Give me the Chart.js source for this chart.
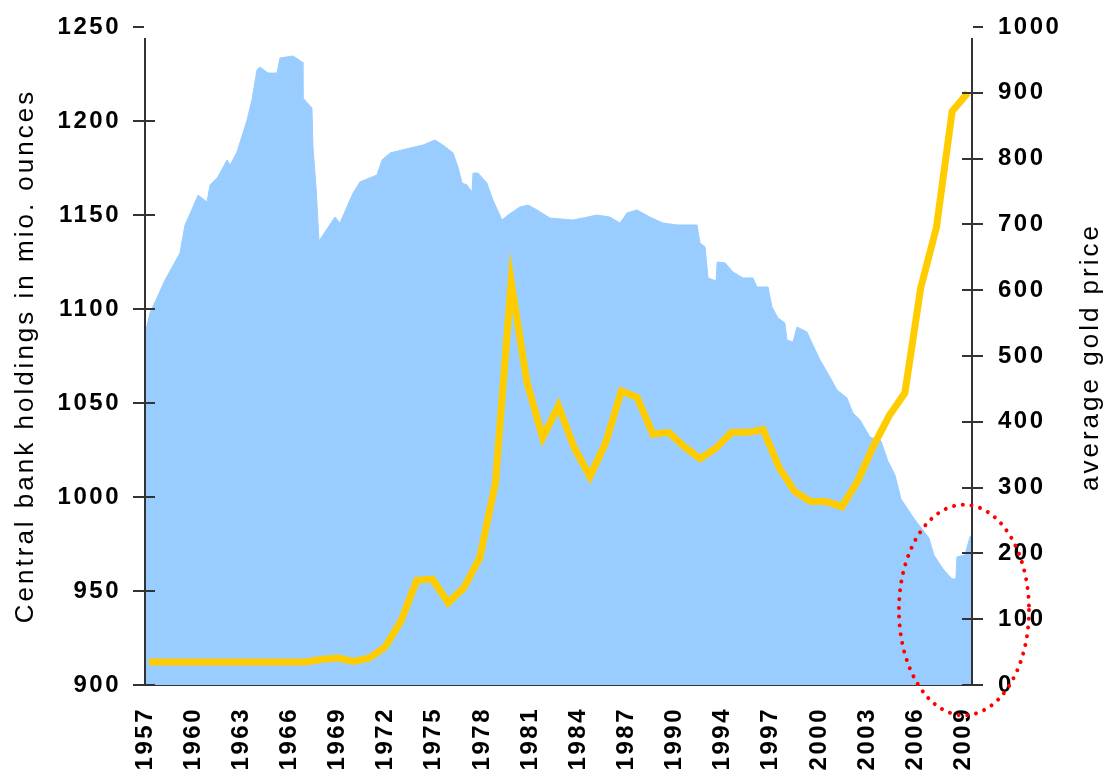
<!DOCTYPE html>
<html>
<head>
<meta charset="utf-8">
<script src="https://cdn.jsdelivr.net/npm/chart.js@4.4.1/dist/chart.umd.min.js"></script>
<style>
html,body{margin:0;padding:0;background:#fff;}
canvas{display:block;}
</style>
</head>
<body>
<canvas id="c" width="1112" height="774"></canvas>
<script>
// ---- data ----
const tickLabels = ['1957','1960','1963','1966','1969','1972','1975','1978','1981','1984','1987','1990','1994','1997','2000','2003','2006','2009'];

const holdingsDates = [1956.81,1957.07,1958.02,1958.97,1959.29,1959.80,1960.12,1960.69,1960.88,1961.38,1961.96,1962.15,1962.59,1963.23,1963.54,1963.86,1964.05,1964.56,1965.13,1965.32,1966.15,1966.72,1966.78,1967.35,1967.42,1967.61,1967.80,1968.81,1969.13,1969.57,1969.96,1970.40,1971.48,1971.80,1972.31,1973.57,1974.40,1975.16,1975.67,1976.31,1976.62,1976.88,1977.19,1977.51,1977.58,1977.89,1978.46,1978.84,1979.42,1979.80,1980.56,1981.07,1981.64,1982.46,1983.92,1984.56,1985.45,1986.27,1986.91,1987.35,1987.99,1988.81,1989.64,1990.53,1991.80,1991.99,1992.31,1992.50,1993.01,1993.08,1993.59,1994.08,1994.72,1995.35,1995.61,1996.31,1996.56,1996.94,1997.38,1997.51,1997.89,1998.15,1998.78,1999.10,1999.61,2000.24,2000.69,2001.32,2001.70,2002.15,2002.78,2003.48,2003.92,2004.37,2004.75,2005.64,2006.53,2006.84,2007.42,2007.99,2008.24,2008.30,2008.81,2009.13,2009.25];

const holdingsValues = [1088.8,1097.9,1115.4,1129.8,1144.7,1154.3,1160.6,1156.9,1166.0,1170.2,1179.3,1176.6,1183.5,1200.5,1211.2,1227.1,1228.7,1225.5,1225.5,1233.5,1234.6,1231.4,1212.2,1206.9,1185.6,1164.9,1136.2,1148.9,1145.7,1154.3,1161.7,1167.6,1171.3,1179.3,1183.0,1185.6,1187.2,1189.9,1187.2,1183.0,1175.5,1167.0,1166.0,1162.2,1172.3,1172.3,1167.0,1158.0,1147.3,1150.0,1154.3,1155.3,1152.7,1148.4,1147.3,1148.4,1150.0,1148.9,1145.7,1151.1,1152.7,1148.9,1145.7,1144.7,1144.7,1135.1,1133.0,1116.5,1114.9,1125.0,1124.5,1119.7,1116.5,1116.5,1111.7,1111.7,1101.1,1095.2,1092.6,1083.5,1082.4,1090.4,1087.8,1081.9,1072.9,1063.8,1056.9,1052.7,1044.7,1041.0,1031.9,1029.8,1019.1,1011.7,998.9,987.8,978.2,969.1,961.7,956.4,956.4,968.1,969.1,978.7,979.8];

const goldYears = [1957,1958,1959,1960,1961,1962,1963,1964,1965,1966,1967,1968,1969,1970,1971,1972,1973,1974,1975,1976,1977,1978,1979,1980,1981,1982,1983,1984,1985,1986,1987,1988,1989,1990,1991,1992,1993,1994,1995,1996,1997,1998,1999,2000,2001,2002,2003,2004,2005,2006,2007,2008,2009];

const goldPrices = [35,35,35,35,35,35,35,35,35,35,35,39,41,36,41,58,97,159,161,125,148,193,307,613,460,376,424,361,317,368,447,437,381,384,362,344,360,384,384,388,331,294,279,279,271,310,363,409,444,603,695,872,900];

const leftTitle = 'Central bank holdings in mio. ounces';
const rightTitle = 'average gold price';

// highlighted region (dotted ellipse), in data units
const highlight = { year: 2008.75, price: 114, rYears: 4.13, rPrice: 160 };

// ---- chart ----
const tickFont = { family: '"Liberation Sans", Arial, sans-serif', size: 24, weight: 'bold' };
const noPad = s => { s.paddingTop = 0; s.paddingBottom = 0; s.paddingLeft = 0; s.paddingRight = 0; };

const decor = {
  id: 'decor',
  beforeUpdate(chart) { chart.ctx.letterSpacing = '2.5px'; },
  beforeDraw(chart) { chart.ctx.letterSpacing = '2.5px'; },
  afterDraw(chart) {
    const ctx = chart.ctx;
    const a = chart.chartArea;
    const yL = chart.scales.y, yR = chart.scales.y1, xs = chart.scales.x;
    ctx.save();
    ctx.strokeStyle = '#333';
    ctx.lineWidth = 2;
    ctx.beginPath();
    ctx.moveTo(a.left, a.top + 11); ctx.lineTo(a.left, a.bottom);
    ctx.moveTo(a.right, a.top + 11); ctx.lineTo(a.right, a.bottom);
    ctx.stroke();
    ctx.beginPath();
    yL.ticks.forEach(t => {
      const py = Math.round(yL.getPixelForValue(t.value));
      const inner = t.value === yL.max ? -1 : 10;
      ctx.moveTo(a.left - 12, py); ctx.lineTo(a.left + inner, py);
    });
    yR.ticks.forEach(t => {
      const py = Math.round(yR.getPixelForValue(t.value));
      const inner = t.value === yR.max ? -1 : 10;
      ctx.moveTo(a.right - inner, py); ctx.lineTo(a.right + 11, py);
    });
    ctx.stroke();

    // axis titles (rotated, reading bottom to top)
    ctx.fillStyle = '#000';
    ctx.font = '26px "Liberation Sans", Arial, sans-serif';
    ctx.letterSpacing = '3px';
    ctx.textAlign = 'center';
    ctx.textBaseline = 'alphabetic';
    const cy = (a.top + a.bottom) / 2;
    ctx.save(); ctx.translate(33, cy); ctx.rotate(-Math.PI / 2); ctx.fillText(leftTitle, 0, 0); ctx.restore();
    ctx.save(); ctx.translate(1098, cy + 1); ctx.rotate(-Math.PI / 2); ctx.fillText(rightTitle, 0, 0); ctx.restore();

    // dotted highlight ellipse
    const ex = xs.getPixelForValue(highlight.year);
    const ey = yR.getPixelForValue(highlight.price);
    const rx = Math.abs(xs.getPixelForValue(highlight.year + highlight.rYears) - ex);
    const ry = Math.abs(yR.getPixelForValue(highlight.price + highlight.rPrice) - ey);
    ctx.strokeStyle = '#FF0000';
    ctx.lineWidth = 4;
    ctx.lineCap = 'round';
    ctx.setLineDash([0.01, 8.8]);
    ctx.beginPath();
    ctx.ellipse(ex, ey, rx, ry, 0, 0, Math.PI * 2);
    ctx.stroke();
    ctx.restore();
  }
};

new Chart(document.getElementById('c'), {
  type: 'line',
  data: {
    datasets: [
      {
        label: 'average gold price',
        data: goldYears.map((yr, i) => ({ x: yr, y: goldPrices[i] })),
        xAxisID: 'x', yAxisID: 'y1',
        borderColor: '#FFCC00', borderWidth: 7,
        pointRadius: 0, tension: 0, fill: false, order: 0
      },
      {
        label: 'Central bank holdings',
        data: holdingsDates.map((d, i) => ({ x: d, y: holdingsValues[i] })),
        xAxisID: 'x', yAxisID: 'y',
        borderColor: '#99CCFF', borderWidth: 1,
        backgroundColor: '#99CCFF', fill: 'start',
        pointRadius: 0, tension: 0, order: 1
      }
    ]
  },
  options: {
    responsive: false,
    devicePixelRatio: 1,
    animation: false,
    events: [],
    layout: { padding: { top: 27, left: 0, right: 0, bottom: 0 } },
    plugins: { legend: { display: false }, tooltip: { enabled: false } },
    scales: {
      x: { type: 'linear', min: 1956.75, max: 2009.26, display: false },
      xl: {
        type: 'linear', position: 'bottom', min: 0, max: 17.18,
        afterFit: s => { s.height = 89; noPad(s); },
        grid: { display: false, drawTicks: false },
        border: { display: true, color: '#333', width: 2 },
        ticks: {
          stepSize: 1, autoSkip: false, includeBounds: false,
          minRotation: 90, maxRotation: 90, padding: 22,
          color: '#000', font: tickFont,
          callback: v => (tickLabels[v] !== undefined ? tickLabels[v] : '')
        }
      },
      y: {
        type: 'linear', position: 'left', min: 900, max: 1250,
        afterFit: s => { s.width = 145; noPad(s); },
        grid: { display: false, drawTicks: false },
        border: { display: false },
        ticks: { stepSize: 50, padding: 24, color: '#000', font: tickFont, callback: v => String(v) }
      },
      y1: {
        type: 'linear', position: 'right', min: 0, max: 1000,
        afterFit: s => { s.width = 140; noPad(s); },
        grid: { display: false, drawTicks: false },
        border: { display: false },
        ticks: { stepSize: 100, padding: 26, color: '#000', font: tickFont, callback: v => String(v) }
      }
    }
  },
  plugins: [decor]
});
</script>
</body>
</html>
